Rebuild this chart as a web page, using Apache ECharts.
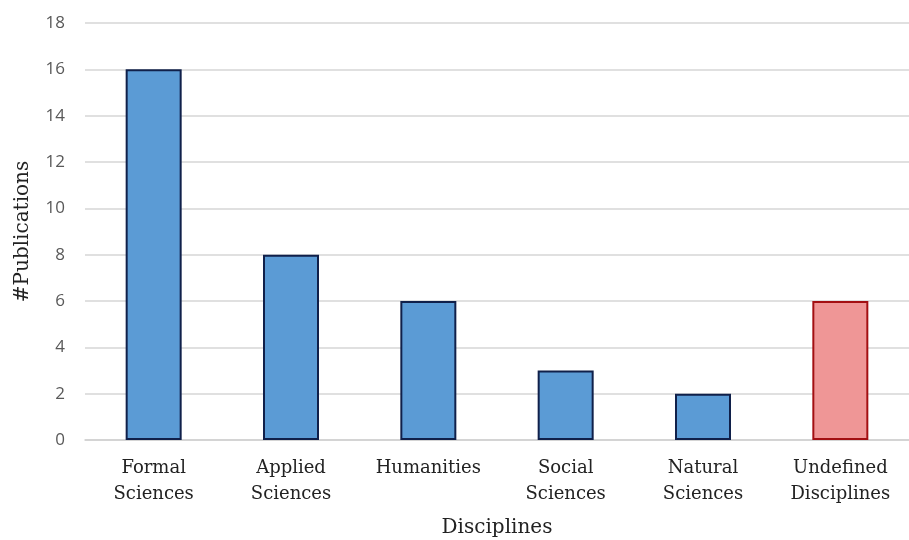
<!DOCTYPE html>
<html>
<head>
<meta charset="utf-8">
<script src="https://cdn.jsdelivr.net/npm/echarts@6/dist/echarts.min.js"></script>
<style>
  html, body { margin: 0; padding: 0; background: #fff; }
  #main { width: 909px; height: 540px; }
</style>
</head>
<body>
<div id="main"></div>
<script>
// categories and counts
var disciplines = ['Formal\nSciences', 'Applied\nSciences', 'Humanities', 'Social\nSciences', 'Natural\nSciences', 'Undefined\nDisciplines'];
var publications = [16, 8, 6, 3, 2, 6];
var yTicks = { min: 0, max: 18, interval: 2 };

var serif = '"DejaVu Serif", "Liberation Serif", serif';

var myChart = echarts.init(document.getElementById('main'));

var barData = publications.map(function (v, i) {
    var last = i === publications.length - 1;
    return {
        value: v,
        itemStyle: last
            ? { color: '#ef9696', borderColor: '#a30f12', borderWidth: 2 }
            : { color: '#5b9bd5', borderColor: '#10204a', borderWidth: 2 }
    };
});

var option = {
    animation: false,
    backgroundColor: '#fff',
    grid: { left: 85, right: 0, top: 23, bottom: 100, outerBoundsMode: 'none', containLabel: false },
    xAxis: {
        type: 'category',
        data: disciplines,
        name: 'Disciplines',
        nameLocation: 'middle',
        nameGap: 78,
        nameTextStyle: { fontFamily: serif, fontSize: 20, color: '#222' },
        axisLine: { lineStyle: { color: '#d0d0d0', width: 1.5 } },
        axisTick: { show: false },
        axisLabel: {
            fontFamily: serif, fontSize: 18, color: '#222',
            lineHeight: 26, margin: 15, interval: 0
        }
    },
    yAxis: {
        type: 'value',
        min: yTicks.min,
        max: yTicks.max,
        interval: yTicks.interval,
        name: '#Publications',
        nameLocation: 'middle',
        nameGap: 52,
        nameTextStyle: { fontFamily: serif, fontSize: 20, color: '#222' },
        axisLine: { show: false },
        axisTick: { show: false },
        axisLabel: { fontFamily: '"Open Sans", "Noto Sans", sans-serif', fontSize: 17, color: '#595959', margin: 20 },
        splitLine: { lineStyle: { color: '#d6d6d6', width: 1.5 } }
    },
    series: [{
        type: 'bar',
        barWidth: 56,
        data: barData
    }]
};

myChart.setOption(option);
</script>
</body>
</html>
